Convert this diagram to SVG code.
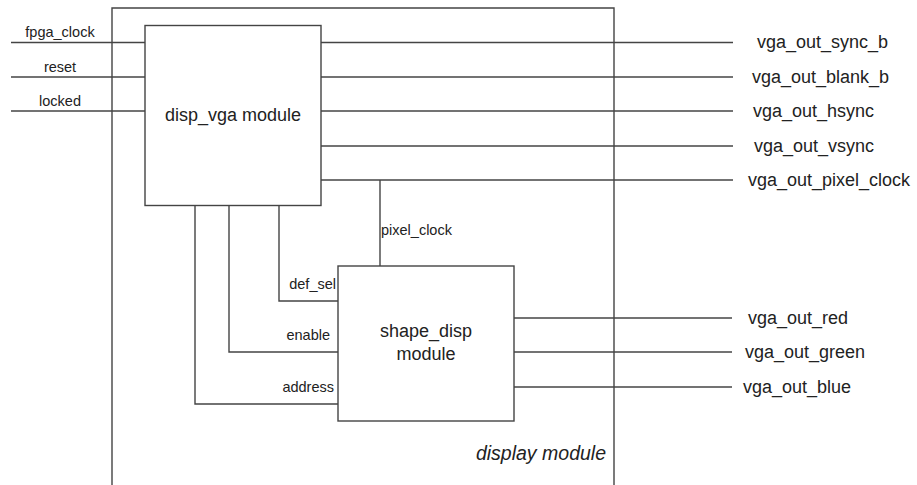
<svg xmlns="http://www.w3.org/2000/svg" width="917" height="485" viewBox="0 0 917 485">
  <style>
    .box { fill: none; stroke: #444; stroke-width: 1.4; }
    .wire { fill: none; stroke: #444; stroke-width: 1.4; }
    text { font-family: "Liberation Sans", Arial, sans-serif; fill: #222; }
    .big { font-size: 18px; }
    .small { font-size: 14.5px; }
    .port { font-size: 14.5px; }
    .title { font-size: 19.5px; font-style: italic; }
  </style>
  <rect width="917" height="485" fill="#fff"/>

  <!-- enclosing display module (open at the bottom) -->
  <g id="display_module">
    <path class="box" d="M112,485 V8 H614 V485"/>
    <text class="title" x="606" y="460" text-anchor="end">display module</text>
  </g>

  <!-- connectors -->
  <g id="connectors">
    <!-- top-level inputs -->
    <path class="wire" d="M11,42.5 H145"/>
    <path class="wire" d="M11,77 H145"/>
    <path class="wire" d="M11,111 H145"/>
    <!-- disp_vga outputs -->
    <path class="wire" d="M321,42.5 H733"/>
    <path class="wire" d="M321,77 H733"/>
    <path class="wire" d="M321,111 H733"/>
    <path class="wire" d="M321,146 H733"/>
    <path class="wire" d="M321,180 H733"/>
    <!-- pixel clock tap into shape_disp -->
    <path class="wire" d="M380,180 V266"/>
    <!-- disp_vga to shape_disp control lines -->
    <path class="wire" d="M279,205 V301 H338"/>
    <path class="wire" d="M229,205 V352 H338"/>
    <path class="wire" d="M195,205 V404 H338"/>
    <!-- shape_disp colour outputs -->
    <path class="wire" d="M514,318 H732"/>
    <path class="wire" d="M514,352 H732"/>
    <path class="wire" d="M514,387 H732"/>
  </g>

  <!-- connector labels -->
  <g id="labels">
    <text class="port" x="60" y="37" text-anchor="middle">fpga_clock</text>
    <text class="port" x="60" y="72" text-anchor="middle">reset</text>
    <text class="port" x="60" y="106" text-anchor="middle">locked</text>

    <text class="small" x="381" y="235">pixel_clock</text>
    <text class="small" x="336" y="289" text-anchor="end">def_sel</text>
    <text class="small" x="330" y="340" text-anchor="end">enable</text>
    <text class="small" x="334" y="392" text-anchor="end">address</text>

    <text class="big" x="757" y="48">vga_out_sync_b</text>
    <text class="big" x="752" y="83">vga_out_blank_b</text>
    <text class="big" x="753" y="117">vga_out_hsync</text>
    <text class="big" x="754" y="152">vga_out_vsync</text>
    <text class="big" x="748" y="186">vga_out_pixel_clock</text>

    <text class="big" x="748" y="324">vga_out_red</text>
    <text class="big" x="745" y="358">vga_out_green</text>
    <text class="big" x="743" y="393">vga_out_blue</text>
  </g>

  <g id="disp_vga">
    <rect class="box" x="145" y="25.5" width="176" height="180"/>
    <text class="big" x="233" y="121" text-anchor="middle">disp_vga module</text>
  </g>

  <g id="shape_disp">
    <rect class="box" x="338" y="266" width="176" height="155"/>
    <text class="big" x="426" y="337" text-anchor="middle">shape_disp</text>
    <text class="big" x="426" y="360" text-anchor="middle">module</text>
  </g>
</svg>
